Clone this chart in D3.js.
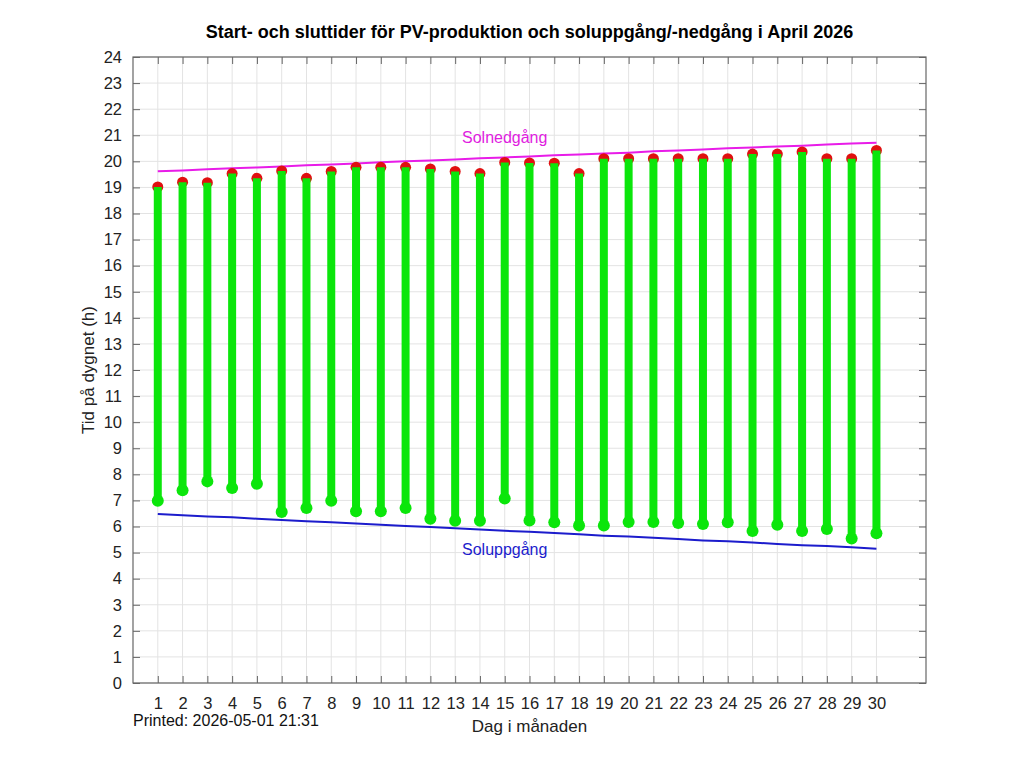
<!DOCTYPE html>
<html>
<head>
<meta charset="utf-8">
<script src="https://cdn.jsdelivr.net/npm/d3@7"></script>
<style>
  body { margin: 0; background: #fff; }
  svg { font-family: "Liberation Sans", Arial, sans-serif; }
</style>
</head>
<body>
<svg id="chart" width="1024" height="768"></svg>
<script>
// dagar i april
const days = d3.range(1, 31);
// start av PV-produktion (h)
const pvStart = [6.99, 7.39, 7.73, 7.48, 7.64, 6.56, 6.71, 6.99, 6.58, 6.58,
                 6.71, 6.30, 6.22, 6.22, 7.07, 6.23, 6.16, 6.04, 6.04, 6.17,
                 6.17, 6.13, 6.10, 6.16, 5.83, 6.07, 5.83, 5.90, 5.54, 5.74];
// slut av PV-produktion (h)
const pvEnd = [19.02, 19.20, 19.18, 19.53, 19.35, 19.63, 19.35, 19.61, 19.77, 19.77,
               19.77, 19.71, 19.61, 19.53, 19.96, 19.94, 19.93, 19.53, 20.10, 20.10,
               20.10, 20.10, 20.10, 20.10, 20.28, 20.28, 20.36, 20.10, 20.10, 20.42];
// soluppgång / solnedgång
const sunrise = ["06:29","06:26","06:23","06:21","06:18","06:15","06:12","06:10","06:07","06:04",
                 "06:01","05:59","05:56","05:53","05:50","05:48","05:45","05:42","05:39","05:37",
                 "05:34","05:31","05:28","05:26","05:23","05:20","05:17","05:15","05:12","05:09"];
const sunset = ["19:37","19:39","19:42","19:44","19:46","19:48","19:51","19:53","19:55","19:58",
                "20:00","20:02","20:04","20:07","20:09","20:11","20:14","20:16","20:18","20:20",
                "20:23","20:25","20:27","20:30","20:32","20:34","20:36","20:39","20:41","20:43"];
const yTicks = d3.range(0, 25);

const toHours = s => { const p = s.split(":"); return +p[0] + +p[1] / 60; };

const margin = {top: 57, right: 98, bottom: 85, left: 133};
const width = 1024, height = 768;
const innerW = width - margin.left - margin.right;
const innerH = height - margin.top - margin.bottom;

const svg = d3.select("#chart");
const chart = svg.append("g")
    .attr("transform", `translate(${margin.left},${margin.top})`);

const x = d3.scaleLinear().domain([0, 32]).range([0, innerW]);
const y = d3.scaleLinear().domain([0, 24]).range([innerH, 0]);

// rutnät
chart.append("g").selectAll("line")
    .data(days).join("line")
    .attr("x1", d => x(d)).attr("x2", d => x(d))
    .attr("y1", 0).attr("y2", innerH)
    .attr("stroke", "#e3e3e3").attr("stroke-width", 1);
chart.append("g").selectAll("line")
    .data(yTicks).join("line")
    .attr("x1", 0).attr("x2", innerW)
    .attr("y1", d => y(d)).attr("y2", d => y(d))
    .attr("stroke", "#e3e3e3").attr("stroke-width", 1);

// axlar
const styleAxis = g => {
    g.select(".domain").remove();
    g.selectAll(".tick line").attr("stroke", "#666");
    g.selectAll(".tick text").attr("fill", "#222").style("font-size", "16.5px");
};
chart.append("g")
    .attr("transform", `translate(0,${innerH})`)
    .call(d3.axisBottom(x).tickValues(days).tickSizeInner(-7).tickSizeOuter(0).tickPadding(14))
    .call(styleAxis);
chart.append("g")
    .call(d3.axisTop(x).tickValues(days).tickSizeInner(-7).tickSizeOuter(0).tickFormat(""))
    .call(styleAxis);
chart.append("g")
    .call(d3.axisLeft(y).tickValues(yTicks).tickSizeInner(-7).tickSizeOuter(0).tickPadding(11))
    .call(styleAxis);
chart.append("g")
    .attr("transform", `translate(${innerW},0)`)
    .call(d3.axisRight(y).tickValues(yTicks).tickSizeInner(-7).tickSizeOuter(0).tickFormat(""))
    .call(styleAxis);

chart.append("rect")
    .attr("width", innerW).attr("height", innerH)
    .attr("fill", "none").attr("stroke", "#666").attr("stroke-width", 1.2);

// sol-linjer
const line = d3.line().x((d, i) => x(days[i])).y(d => y(toHours(d)));
chart.append("path").datum(sunset)
    .attr("d", line).attr("fill", "none")
    .attr("stroke", "#e81ce8").attr("stroke-width", 2);
chart.append("path").datum(sunrise)
    .attr("d", line).attr("fill", "none")
    .attr("stroke", "#1c1ccc").attr("stroke-width", 2);

// PV-produktion
const pv = days.map((d, i) => ({day: d, start: pvStart[i], end: pvEnd[i]}));
chart.append("g").selectAll("circle")
    .data(pv).join("circle")
    .attr("cx", d => x(d.day)).attr("cy", d => y(d.end))
    .attr("r", 5.5).attr("fill", "#e01010");
chart.append("g").selectAll("line")
    .data(pv).join("line")
    .attr("x1", d => x(d.day)).attr("x2", d => x(d.day))
    .attr("y1", d => y(d.start)).attr("y2", d => y(d.end))
    .attr("stroke", "#0be60b").attr("stroke-width", 8);
chart.append("g").selectAll("circle")
    .data(pv).join("circle")
    .attr("cx", d => x(d.day)).attr("cy", d => y(d.start))
    .attr("r", 6).attr("fill", "#0be60b");

chart.append("text")
    .attr("x", x(15)).attr("y", y(20.87))
    .attr("text-anchor", "middle").attr("dominant-baseline", "middle")
    .attr("fill", "#e01ce0").style("font-size", "16px")
    .text("Solnedgång");
chart.append("text")
    .attr("x", x(15)).attr("y", y(5.07))
    .attr("text-anchor", "middle").attr("dominant-baseline", "middle")
    .attr("fill", "#1c1ccc").style("font-size", "16px")
    .text("Soluppgång");

// rubriker
svg.append("text")
    .attr("x", margin.left + innerW / 2).attr("y", 38)
    .attr("text-anchor", "middle")
    .style("font-size", "18px").style("font-weight", "bold")
    .text("Start- och sluttider för PV-produktion och soluppgång/-nedgång i April 2026");
svg.append("text")
    .attr("x", margin.left + innerW / 2).attr("y", 732)
    .attr("text-anchor", "middle").attr("fill", "#222")
    .style("font-size", "17px")
    .text("Dag i månaden");
svg.append("text")
    .attr("transform", `translate(94,${margin.top + innerH / 2}) rotate(-90)`)
    .attr("text-anchor", "middle").attr("fill", "#222")
    .style("font-size", "17px")
    .text("Tid på dygnet (h)");
svg.append("text")
    .attr("x", 133).attr("y", 726)
    .attr("fill", "#111")
    .style("font-size", "16px")
    .text("Printed: 2026-05-01 21:31");
</script>
</body>
</html>
